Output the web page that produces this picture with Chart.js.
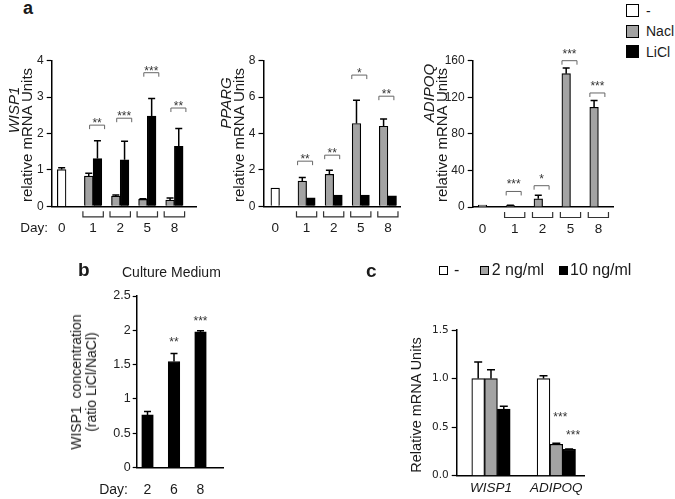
<!DOCTYPE html>
<html>
<head>
<meta charset="utf-8">
<script src="https://cdn.jsdelivr.net/npm/chart.js@4.4.1/dist/chart.umd.min.js"></script>
<style>
    html, body { margin: 0; padding: 0; background: #fff; }
    #fig { position: relative; width: 675px; height: 499px; overflow: hidden;
           font-family: 'Liberation Sans', Arial, sans-serif; color: #1a1a1a; }
    #fig canvas { position: absolute; }
    .t { position: absolute; white-space: nowrap; line-height: 1; }
    .rot { position: absolute; white-space: nowrap; line-height: 1; transform: translate(-50%, -50%) rotate(-90deg); }
    .box { position: absolute; border: 1px solid #000; box-sizing: border-box; }
</style>
</head>
<body>
<div id="fig">
    <canvas id="a1" width="200" height="205" style="left:0;top:40px"></canvas>
    <canvas id="a2" width="200" height="205" style="left:205px;top:40px"></canvas>
    <canvas id="a3" width="205" height="205" style="left:415px;top:40px"></canvas>
    <canvas id="b" width="170" height="229" style="left:60px;top:270px"></canvas>
    <canvas id="c" width="215" height="179" style="left:380px;top:320px"></canvas>

    <div class="t" style="left:23px;top:-1.5px;font-size:18px;font-weight:bold">a</div>
    <div class="t" style="left:78px;top:260px;font-size:19px;font-weight:bold">b</div>
    <div class="t" style="left:366px;top:261px;font-size:19px;font-weight:bold">c</div>

    <!-- panel a legend -->
    <div class="box" style="left:626px;top:4px;width:13px;height:13px;background:#fff"></div>
    <div class="box" style="left:626px;top:24.5px;width:13px;height:13px;background:#a3a3a3"></div>
    <div class="box" style="left:626px;top:45px;width:13px;height:13px;background:#000"></div>
    <div class="t" style="left:646px;top:3.5px;font-size:14px">-</div>
    <div class="t" style="left:646px;top:23.7px;font-size:14px">Nacl</div>
    <div class="t" style="left:646px;top:44.7px;font-size:14px">LiCl</div>

    <!-- panel a axis titles -->
    <div class="rot" style="left:13px;top:110px;font-size:15px"><i>WISP1</i></div>
    <div class="rot" style="left:26px;top:135px;font-size:15px">relative mRNA Units</div>
    <div class="rot" style="left:225px;top:103px;font-size:15px"><i>PPARG</i></div>
    <div class="rot" style="left:238px;top:135px;font-size:15px">relative mRNA Units</div>
    <div class="rot" style="left:428px;top:93px;font-size:15px"><i>ADIPOQ</i></div>
    <div class="rot" style="left:441px;top:135px;font-size:15px">relative mRNA Units</div>

    <!-- panel b texts -->
    <div class="t" style="left:122px;top:265px;font-size:14px">Culture Medium</div>
    <div class="rot" style="left:84px;top:382px;font-size:14px;line-height:15px;text-align:center">WISP1&nbsp; concentration<br>(ratio LiCl/NaCl)</div>

    <!-- panel c texts -->
    <div class="box" style="left:438.5px;top:265.5px;width:9px;height:9px;background:#fff"></div>
    <div class="box" style="left:479.5px;top:265.5px;width:9px;height:9px;background:#a3a3a3"></div>
    <div class="box" style="left:558.5px;top:265.5px;width:9px;height:9px;background:#000"></div>
    <div class="t" style="left:454px;top:262px;font-size:16px">-</div>
    <div class="t" style="left:491.7px;top:262px;font-size:16px">2 ng/ml</div>
    <div class="t" style="left:570px;top:262px;font-size:16px">10 ng/ml</div>
    <div class="rot" style="left:416px;top:405px;font-size:14.5px">Relative mRNA Units</div>
</div>

<script>
// Panel a: days of differentiation
const dayLabels = ['0', '1', '2', '5', '8'];
// untreated day-0 level for WISP1, PPARG, ADIPOQ
const day0Level = [1.01, 1.0, 2.0];
const day0Err = [0.05, 0, 0];

const wisp1Nacl = [0.83, 0.28, 0.19, 0.17];
const wisp1NaclErr = [0.08, 0.03, 0.02, 0.06];
const wisp1Licl = [1.31, 1.28, 2.48, 1.65];
const wisp1LiclErr = [0.49, 0.51, 0.48, 0.49];
const wisp1Stars = ['**', '***', '***', '**'];
const wisp1StarAt = [2.23, 2.42, 3.67, 2.70];

const ppargNacl = [1.38, 1.76, 4.55, 4.40];
const ppargNaclErr = [0.20, 0.22, 1.28, 0.39];
const ppargLicl = [0.46, 0.62, 0.62, 0.57];
const ppargLiclErr = [0, 0, 0, 0];
const ppargStars = ['**', '**', '*', '**'];
const ppargStarAt = [2.48, 2.81, 7.21, 6.05];

const adipoqNacl = [1.5, 9.0, 145.8, 109.0];
const adipoqNaclErr = [0.5, 3.8, 6.2, 7.4];
const adipoqLicl = [0.4, 0.5, 0.5, 0.5];
const adipoqLiclErr = [0, 0, 0, 0];
const adipoqStars = ['***', '*', '***', '***'];
const adipoqStarAt = [17, 23.3, 160, 124.7];

// Panel b: culture medium
const mediumDays = ['2', '6', '8'];
const wisp1Ratio = [0.767, 1.545, 1.977];
const wisp1RatioErr = [0.05, 0.115, 0.015];
const ratioStars = ['', '**', '***'];
const ratioStarAt = [null, 1.87, 2.17];

// Panel c: dose response
const genes = ['WISP1', 'ADIPOQ'];
const dose0 = [1.0, 1.0];
const dose0Err = [0.17, 0.03];
const dose2 = [1.0, 0.323];
const dose2Err = [0.09, 0.01];
const dose10 = [0.687, 0.272];
const dose10Err = [0.027, 0.004];
const dose2Stars = ['', '***'];
const dose2StarAt = [null, 0.63];
const dose10Stars = ['', '***'];
const dose10StarAt = [null, 0.45];

const FONT = "'Liberation Sans', Arial, sans-serif";
const GRAY = '#a3a3a3';

function barsAt(chart, i) {
    const bars = [];
    chart.data.datasets.forEach((ds, d) => {
        const p = ds.data[i];
        const el = chart.getDatasetMeta(d).data[i];
        if (p && p.y != null && el) bars.push(el);
    });
    return bars;
}

const errorBars = {
    id: 'errorBars',
    afterDatasetsDraw(chart, args, opts) {
        const { ctx, scales: { y } } = chart;
        ctx.save();
        ctx.strokeStyle = '#000';
        ctx.lineWidth = opts.width || 1.5;
        chart.data.datasets.forEach((ds, d) => {
            if (!ds.errors) return;
            chart.getDatasetMeta(d).data.forEach((bar, i) => {
                const p = ds.data[i];
                const e = ds.errors[i];
                if (!p || p.y == null || !e) return;
                const top = y.getPixelForValue(p.y + e);
                ctx.beginPath();
                ctx.moveTo(bar.x, bar.y);
                ctx.lineTo(bar.x, top);
                ctx.moveTo(bar.x - opts.cap / 2, top);
                ctx.lineTo(bar.x + opts.cap / 2, top);
                ctx.stroke();
            });
        });
        ctx.restore();
    }
};

// stars (and brackets) above the bars
const sigMarks = {
    id: 'sigMarks',
    afterDatasetsDraw(chart, args, opts) {
        const { ctx, scales: { y } } = chart;
        const size = opts.size || 12;
        ctx.save();
        ctx.font = size + 'px ' + FONT;
        ctx.textAlign = 'center';
        ctx.fillStyle = '#333';
        ctx.strokeStyle = '#666';
        ctx.lineWidth = 1;
        const star = (label, x, cy) => ctx.fillText(label, x, cy + 0.57 * size);

        // group comparisons with a bracket
        if (opts.labels) {
            opts.labels.forEach((label, i) => {
                if (!label) return;
                const bars = barsAt(chart, i);
                const cx = bars.reduce((s, b) => s + b.x, 0) / bars.length + (opts.shift || 0);
                const py = y.getPixelForValue(opts.levels[i]);
                const w = opts.width / 2;
                ctx.beginPath();
                ctx.moveTo(cx - w, py + 4);
                ctx.lineTo(cx - w, py);
                ctx.lineTo(cx + w, py);
                ctx.lineTo(cx + w, py + 4);
                ctx.stroke();
                star(label, cx, py - opts.gap);
            });
        }
        // stars over single bars
        chart.data.datasets.forEach((ds, d) => {
            if (!ds.stars) return;
            chart.getDatasetMeta(d).data.forEach((bar, i) => {
                if (!ds.stars[i]) return;
                star(ds.stars[i], bar.x + (opts.shift || 0), y.getPixelForValue(ds.starAt[i]));
            });
        });
        ctx.restore();
    }
};

// category labels, brackets and "Day:" under the x axis
const bottomLabels = {
    id: 'bottomLabels',
    afterDraw(chart, args, opts) {
        if (!opts.labels) return;
        const { ctx, chartArea } = chart;
        const ty = chartArea.bottom + opts.dy;
        ctx.save();
        ctx.font = opts.font;
        ctx.fillStyle = '#1a1a1a';
        ctx.strokeStyle = '#333';
        ctx.lineWidth = 1.2;
        ctx.textAlign = 'center';
        ctx.textBaseline = 'middle';
        opts.labels.forEach((label, i) => {
            const bars = barsAt(chart, i);
            if (!bars.length) return;
            const cx = bars.reduce((s, b) => s + b.x, 0) / bars.length;
            ctx.fillText(label, cx, ty);
            if (opts.brackets && bars.length > 1) {
                const l = Math.min(...bars.map(b => b.x - b.width / 2)) - 1.5;
                const r = Math.max(...bars.map(b => b.x + b.width / 2)) + 1.5;
                const top = chartArea.bottom + 5;
                const bot = chartArea.bottom + 10.5;
                ctx.beginPath();
                ctx.moveTo(l, top);
                ctx.lineTo(l, bot);
                ctx.lineTo(r, bot);
                ctx.lineTo(r, top);
                ctx.stroke();
            }
        });
        if (opts.prefix) {
            ctx.textAlign = 'right';
            ctx.fillText(opts.prefix, chartArea.left + opts.prefixX, ty);
        }
        ctx.restore();
    }
};

function baseOptions(s) {
    return {
        responsive: false,
        animation: false,
        events: [],
        layout: { padding: { top: s.padTop, right: s.padRight, left: 0, bottom: 0 } },
        plugins: {
            legend: { display: false },
            tooltip: { enabled: false },
            errorBars: { cap: s.cap, width: 1.5 },
            sigMarks: s.sig,
            bottomLabels: s.bottom
        },
        scales: {
            x: {
                type: 'linear', min: s.xMin, max: s.xMax, offset: false,
                grid: { display: false, drawTicks: false },
                ticks: { display: false },
                border: { color: '#000', width: 1.5 },
                afterFit: sc => { sc.height = s.xHeight; }
            },
            y: {
                min: 0, max: s.yMax,
                ticks: {
                    stepSize: s.yStep, color: '#222', padding: s.tickPad,
                    font: { family: s.tickFamily || FONT, size: s.tickSize },
                    callback: s.fmt
                },
                grid: { drawOnChartArea: false, tickLength: s.tickLen, color: '#000', tickWidth: 1.2 },
                border: { color: '#000', width: 1.5 },
                afterFit: sc => { sc.width = s.yWidth; }
            }
        }
    };
}

function geneChart(id, base, baseErr, nacl, naclErr, licl, liclErr, stars, starAt, s) {
    const first = [{ x: 0, y: base }].concat(nacl.map((v, i) => ({ x: i + 1, y: v })));
    const second = [{ x: 0, y: null }].concat(licl.map((v, i) => ({ x: i + 1, y: v })));
    new Chart(document.getElementById(id), {
        type: 'bar',
        data: {
            datasets: [
                {
                    data: first, errors: [baseErr].concat(naclErr),
                    backgroundColor: ['#fff'].concat(nacl.map(() => GRAY)),
                    borderColor: '#000', borderWidth: 1.2, barThickness: s.bar
                },
                {
                    data: second, errors: [0].concat(liclErr),
                    backgroundColor: '#000', borderColor: '#000', borderWidth: 1.2, barThickness: s.bar
                }
            ]
        },
        options: baseOptions(Object.assign({
            cap: 7, tickSize: 12, tickPad: 3, tickLen: 5, padTop: 20.7,
            sig: { labels: [''].concat(stars), levels: [null].concat(starAt), width: 15, gap: s.gap, shift: s.shift, size: 12 },
            bottom: { labels: dayLabels, brackets: true, dy: 22, font: '13.5px ' + FONT, prefix: s.prefix, prefixX: -3.7 }
        }, s)),
        plugins: [errorBars, sigMarks, bottomLabels]
    });
}

geneChart('a1', day0Level[0], day0Err[0], wisp1Nacl, wisp1NaclErr, wisp1Licl, wisp1LiclErr, wisp1Stars, wisp1StarAt, {
    bar: 8.7, xMin: -0.528, xMax: 4.797, yMax: 4, yStep: 1, yWidth: 51.7, xHeight: 38.7, padRight: 4,
    gap: 5, shift: 4, prefix: 'Day:'
});
geneChart('a2', day0Level[1], day0Err[1], ppargNacl, ppargNaclErr, ppargLicl, ppargLiclErr, ppargStars, ppargStarAt, {
    bar: 8.6, xMin: -0.590, xMax: 4.447, yMax: 8, yStep: 2, yWidth: 58.5, xHeight: 38.7, padRight: 5,
    gap: 5, shift: -1.5
});
geneChart('a3', day0Level[2], day0Err[2], adipoqNacl, adipoqNaclErr, adipoqLicl, adipoqLiclErr, adipoqStars, adipoqStarAt, {
    bar: 8.6, xMin: -0.505, xMax: 4.524, yMax: 160, yStep: 40, yWidth: 57.7, xHeight: 38, padRight: 7,
    gap: 10, shift: -1
});

// panel b
new Chart(document.getElementById('b'), {
    type: 'bar',
    data: {
        datasets: [{
            data: wisp1Ratio.map((v, i) => ({ x: i, y: v })),
            errors: wisp1RatioErr, stars: ratioStars, starAt: ratioStarAt,
            backgroundColor: '#000', borderColor: '#000', borderWidth: 1, barThickness: 11.6
        }]
    },
    options: baseOptions({
        cap: 7, xMin: -0.408, xMax: 2.86, yMax: 2.5, yStep: 0.5, yWidth: 76.7, xHeight: 31.5,
        padTop: 26, padRight: 6.7, tickSize: 12.5, tickPad: 2, tickLen: 4,
        fmt: v => String(v),
        sig: { size: 12 },
        bottom: { labels: mediumDays, dy: 22.5, font: '14px ' + FONT, prefix: 'Day:', prefixX: -8.7 }
    }),
    plugins: [errorBars, sigMarks, bottomLabels]
});

// panel c
const cSet = (vals, errs, color) => ({
    data: vals.map((v, i) => ({ x: i, y: v })), errors: errs,
    backgroundColor: color, borderColor: '#000', borderWidth: 1.2, barThickness: 12.8
});
const c2 = cSet(dose2, dose2Err, GRAY);
c2.stars = dose2Stars; c2.starAt = dose2StarAt;
const c10 = cSet(dose10, dose10Err, '#000');
c10.stars = dose10Stars; c10.starAt = dose10StarAt;
new Chart(document.getElementById('c'), {
    type: 'bar',
    data: { datasets: [cSet(dose0, dose0Err, '#fff'), c2, c10] },
    options: baseOptions({
        cap: 8, xMin: -0.525, xMax: 1.424, yMax: 1.5, yStep: 0.5, yWidth: 76.7, xHeight: 23.3,
        padTop: 10, padRight: 11, tickSize: 10.5, tickPad: 3, tickLen: 5, tickFamily: "'DejaVu Sans', sans-serif",
        fmt: v => v.toFixed(1),
        sig: { size: 12, shift: 4 },
        bottom: { labels: genes, dy: 12.3, font: 'italic 13.5px ' + FONT }
    }),
    plugins: [errorBars, sigMarks, bottomLabels]
});
</script>
</body>
</html>
